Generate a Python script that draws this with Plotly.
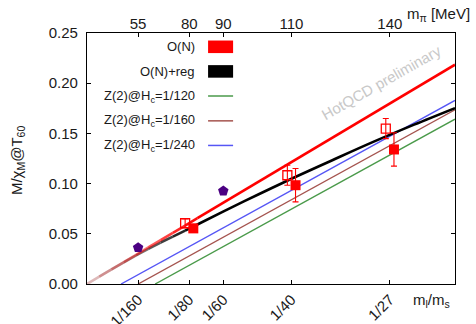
import numpy as np
import plotly.graph_objects as go

# ---- axis ticks: quark-mass ratio (bottom) and pion mass (top) ----
ratio_ticks = [1/160, 1/80, 1/60, 1/40, 1/27]
ratio_labels = ["1/160", "1/80", "1/60", "1/40", "1/27"]
mpi_labels = ["55", "80", "90", "110", "140"]

# ---- lattice results ----
pts_H = [1/80, 1/40, 1/27]
open_vals = [0.0605, 0.1083, 0.1548]
open_err = [0.0045, 0.0100, 0.0100]
filled_vals = [0.0554, 0.0984, 0.1340]
filled_err = [0.0040, 0.0166, 0.0166]
pent_H = [1/160, 1/60]
pent_vals = [0.0362, 0.0927]

# ---- scaling curves ----
on_H = [0.0, 0.045]
on_vals = [0.0, 0.2184]
reg_H = [0.0, 0.003, 0.006, 0.009, 0.0125, 0.0167, 0.021, 0.025, 0.030, 0.035, 0.040, 0.045]
reg_vals = [0.0, 0.0146, 0.0285, 0.0413, 0.0552, 0.0723, 0.0894, 0.1048, 0.1233, 0.1415, 0.1587, 0.1752]
z2_labels = ["Z(2)@H<sub>c</sub>=1/120", "Z(2)@H<sub>c</sub>=1/160", "Z(2)@H<sub>c</sub>=1/240"]
z2_hc = [1/120, 1/160, 1/240]
z2_end = [0.1642, 0.1735, 0.1828]
z2_colors = ["#4a9a4a", "#a5544f", "#5656f5"]

X_MAX = 0.045
FONT = "Liberation Sans, Arial, Helvetica, sans-serif"
TXT = "#1a1a1a"

fig = go.Figure()


def faded_curve(xn, yn, rgb, width, fade_to, nseg=9):
    """Curve that fades in from the origin, then continues in full colour."""
    edges = np.linspace(0.0, fade_to, nseg + 1)
    for i in range(nseg):
        seg = edges[i:i + 2]
        a = 0.10 + 0.90 * (i + 0.5) / nseg
        fig.add_trace(go.Scatter(
            x=seg, y=np.interp(seg, xn, yn), mode="lines",
            line=dict(color=f"rgba({rgb},{a:.2f})", width=width),
            showlegend=False, hoverinfo="skip"))
    xs = [fade_to] + [h for h in xn if h > fade_to]
    fig.add_trace(go.Scatter(
        x=xs, y=np.interp(xs, xn, yn), mode="lines",
        line=dict(color=f"rgb({rgb})", width=width, shape="spline"),
        showlegend=False, hoverinfo="skip"))


# Z(2) lines
for hc, ye, col in zip(z2_hc, z2_end, z2_colors):
    fig.add_trace(go.Scatter(x=[hc, X_MAX], y=[0.0, ye], mode="lines",
                             line=dict(color=col, width=1.4),
                             showlegend=False, hoverinfo="skip"))

# O(N)+reg and O(N)
faded_curve(reg_H, reg_vals, "0,0,0", 2.6, 0.0135)
faded_curve(on_H, on_vals, "255,0,0", 2.6, 0.0135)

# data points (open / filled squares dodged apart horizontally)
dodge = 0.0005
fig.add_trace(go.Scatter(
    x=np.array(pts_H) - dodge, y=open_vals, mode="markers",
    marker=dict(symbol="square-open", size=9, color="#ff0000", line=dict(width=1.3)),
    error_y=dict(type="data", array=open_err, color="#ff0000", thickness=1.1, width=3),
    showlegend=False, hoverinfo="skip"))
fig.add_trace(go.Scatter(
    x=np.array(pts_H) + dodge, y=filled_vals, mode="markers",
    marker=dict(symbol="square", size=10, color="#ff0000"),
    error_y=dict(type="data", array=filled_err, color="#ff0000", thickness=1.1, width=3),
    showlegend=False, hoverinfo="skip"))
fig.add_trace(go.Scatter(
    x=pent_H, y=pent_vals, mode="markers",
    marker=dict(symbol="pentagon", size=11, color="#4b0082"),
    showlegend=False, hoverinfo="skip"))

# invisible trace to carry the top axis
fig.add_trace(go.Scatter(x=[0, X_MAX], y=[0, 0], xaxis="x2", mode="lines",
                         line=dict(width=0), showlegend=False, hoverinfo="skip"))

# ---- hand-made legend (labels left of the keys) ----
leg_rows = [0.945, 0.847, 0.749, 0.650, 0.552]
leg_texts = ["O(N)", "O(N)+reg"] + z2_labels
leg_cols = ["#ff0000", "#000000"] + z2_colors
kx0, kx1 = 0.329, 0.397
annotations = []
shapes = []
for i, (yy, t, c) in enumerate(zip(leg_rows, leg_texts, leg_cols)):
    annotations.append(dict(x=0.299, y=yy, xref="paper", yref="paper", text=t,
                            xanchor="right", yanchor="middle", showarrow=False,
                            font=dict(family=FONT, size=13, color=TXT)))
    if i < 2:
        shapes.append(dict(type="rect", xref="paper", yref="paper",
                           x0=kx0, x1=kx1, y0=yy - 0.025, y1=yy + 0.025,
                           fillcolor=c, line=dict(width=0)))
    else:
        shapes.append(dict(type="line", xref="paper", yref="paper",
                           x0=kx0, x1=kx1, y0=yy, y1=yy,
                           line=dict(color=c, width=1.5)))

annotations += [
    dict(x=0.799, y=0.803, xref="paper", yref="paper", text="HotQCD preliminary",
         textangle=-29.6, showarrow=False, xanchor="center", yanchor="middle",
         font=dict(family=FONT, size=15, color="#c8c8c8")),
    dict(x=-0.19, y=0.494, xref="paper", yref="paper",
         text="M/χ<sub>M</sub>@T<sub>60</sub>", textangle=-90, showarrow=False,
         xanchor="center", yanchor="middle", font=dict(family=FONT, size=15, color=TXT)),
    dict(x=0.935, y=-0.064, xref="paper", yref="paper",
         text="m<sub>l</sub>/m<sub>s</sub>", showarrow=False,
         xanchor="center", yanchor="middle", font=dict(family=FONT, size=15, color=TXT)),
    dict(x=0.955, y=1.072, xref="paper", yref="paper",
         text="m<sub>π</sub> [MeV]", showarrow=False,
         xanchor="center", yanchor="middle", font=dict(family=FONT, size=15, color=TXT)),
]

axis_common = dict(showgrid=False, zeroline=False, ticks="inside", ticklen=4,
                   tickcolor="#000", automargin=False,
                   tickfont=dict(family=FONT, size=15, color=TXT))

fig.update_layout(
    width=476, height=324,
    margin=dict(l=87, r=21, t=33, b=40),
    plot_bgcolor="white", paper_bgcolor="white",
    showlegend=False,
    xaxis=dict(range=[0, X_MAX], tickmode="array", tickvals=ratio_ticks,
               ticktext=ratio_labels, tickangle=-45, showline=True,
               linecolor="#000", linewidth=1.2, mirror=True, **axis_common),
    xaxis2=dict(range=[0, X_MAX], overlaying="x", side="top", tickmode="array",
                tickvals=ratio_ticks, ticktext=mpi_labels, tickangle=0,
                showline=False, **axis_common),
    yaxis=dict(range=[0, 0.25], tickmode="linear", tick0=0, dtick=0.05,
               tickformat=".2f", showline=True, linecolor="#000", linewidth=1.2,
               mirror="ticks", ticklabelstandoff=5, **axis_common),
    annotations=annotations,
    shapes=shapes,
)

fig.write_html("out.html")
